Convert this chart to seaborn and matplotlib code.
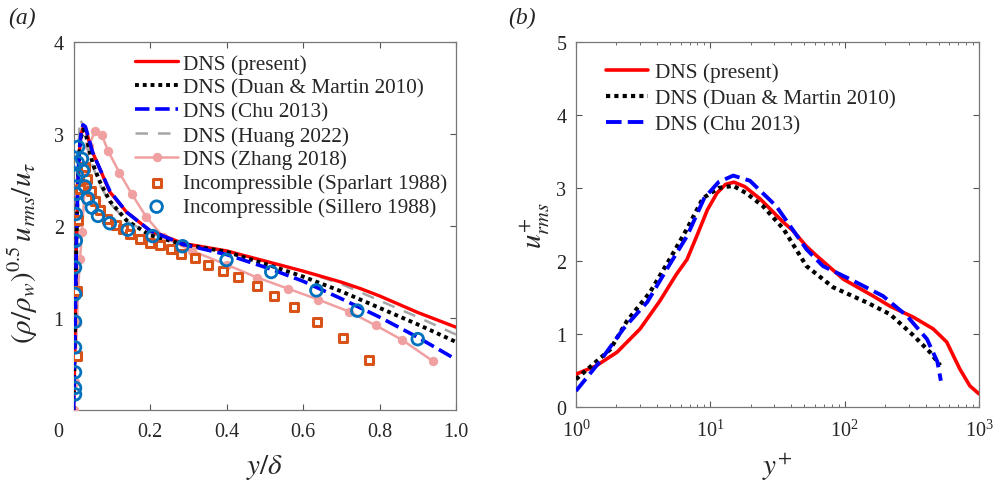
import numpy as np
import pandas as pd
import matplotlib
matplotlib.use("Agg")
import matplotlib.pyplot as plt
import seaborn as sns
from matplotlib.ticker import FixedLocator, FixedFormatter, LogLocator, NullFormatter
from matplotlib.transforms import ScaledTranslation

# ---------------- Panel (a) data: y/delta vs (rho/rho_w)^0.5 u_rms/u_tau ----------------
a_red_x = [0, 0.002, 0.004, 0.006, 0.008, 0.011, 0.015, 0.02, 0.026, 0.032, 0.04, 0.05, 0.069, 0.095,
           0.139, 0.2, 0.287, 0.4, 0.5, 0.6, 0.7, 0.75, 0.8, 0.85, 0.9, 0.95, 1.0]
a_red_y = [0, 0.4, 0.9, 1.4, 1.9, 2.4, 2.8, 3.0, 3.08, 3.06, 2.93, 2.8, 2.62, 2.37,
           2.15, 1.95, 1.81, 1.73, 1.62, 1.51, 1.39, 1.32, 1.24, 1.15, 1.06, 0.98, 0.90]

a_blk_x = [0, 0.002, 0.004, 0.006, 0.008, 0.011, 0.015, 0.02, 0.026, 0.032, 0.04, 0.05, 0.069, 0.095,
           0.139, 0.2, 0.287, 0.4, 0.5, 0.6, 0.7, 0.8, 0.9, 1.0]
a_blk_y = [0, 0.4, 0.9, 1.4, 1.9, 2.4, 2.78, 2.97, 3.05, 3.0, 2.85, 2.68, 2.48, 2.27,
           2.06, 1.90, 1.80, 1.72, 1.59, 1.45, 1.29, 1.11, 0.93, 0.74]

a_blu_x = [0, 0.002, 0.004, 0.006, 0.008, 0.011, 0.015, 0.02, 0.025, 0.031, 0.04, 0.05, 0.069, 0.095,
           0.139, 0.2, 0.287, 0.4, 0.517, 0.6, 0.7, 0.8, 0.9, 1.0]
a_blu_y = [0, 0.4, 0.9, 1.4, 1.9, 2.4, 2.82, 3.02, 3.1, 3.08, 2.95, 2.8, 2.62, 2.38,
           2.15, 1.95, 1.80, 1.69, 1.53, 1.40, 1.21, 1.01, 0.79, 0.55]

a_gry_x = [0, 0.002, 0.004, 0.006, 0.008, 0.011, 0.014, 0.017, 0.022, 0.03, 0.04, 0.05, 0.069, 0.095,
           0.139, 0.2, 0.3, 0.4, 0.5, 0.6, 0.7, 0.8, 0.9, 1.0]
a_gry_y = [0, 0.45, 1.0, 1.5, 2.0, 2.55, 2.95, 3.16, 3.12, 2.98, 2.8, 2.65, 2.45, 2.25,
           2.05, 1.92, 1.80, 1.72, 1.62, 1.51, 1.37, 1.19, 1.01, 0.82]

a_pnk_x = [0.0, 0.003, 0.006, 0.009, 0.012, 0.017, 0.022, 0.03, 0.04, 0.056, 0.074, 0.09, 0.12,
           0.152, 0.19, 0.235, 0.31, 0.40, 0.48, 0.56, 0.64, 0.72, 0.79, 0.86, 0.94]
a_pnk_y = [0.0, 0.3, 0.6, 0.95, 1.3, 1.64, 1.93, 2.45, 2.87, 3.03, 2.99, 2.82, 2.58,
           2.35, 2.10, 1.88, 1.73, 1.58, 1.44, 1.32, 1.20, 1.07, 0.92, 0.76, 0.53]

a_sq_x = [0.008, 0.009, 0.012, 0.018, 0.03, 0.036, 0.045, 0.056, 0.069, 0.087, 0.11, 0.13, 0.148,
          0.174, 0.2, 0.226, 0.254, 0.28, 0.317, 0.352, 0.39, 0.43, 0.479, 0.525, 0.577, 0.636,
          0.705, 0.773]
a_sq_y = [0.59, 1.29, 2.07, 2.40, 2.64, 2.51, 2.38, 2.27, 2.17, 2.08, 2.01, 1.97, 1.91,
          1.86, 1.82, 1.79, 1.75, 1.70, 1.65, 1.58, 1.51, 1.45, 1.35, 1.24, 1.12, 0.96,
          0.78, 0.54]

a_ci_x = [0.004, 0.004, 0.004, 0.004, 0.004, 0.004, 0.004, 0.006, 0.006, 0.008, 0.009, 0.011, 0.012,
          0.022, 0.025, 0.03, 0.038, 0.048, 0.064, 0.095, 0.142, 0.207, 0.285, 0.40, 0.517, 0.635,
          0.742, 0.90]
a_ci_y = [0.17, 0.24, 0.41, 0.68, 0.96, 1.26, 1.55, 1.84, 2.13, 2.35, 2.55, 2.69, 2.86,
          2.73, 2.60, 2.43, 2.30, 2.20, 2.11, 2.03, 1.96, 1.89, 1.78, 1.63, 1.50, 1.30,
          1.08, 0.77]

# ---------------- Panel (b) data: y+ vs u+_rms ----------------
b_red_x = [1.0, 1.4, 2.02, 3.0, 4.2, 5.6, 6.7, 8.0, 9.5, 11.2, 13.0, 15.0, 18.0, 23.5, 35, 41, 52,
           62, 98, 163, 218, 325, 456, 575, 720, 855, 1000]
b_red_y = [0.45, 0.56, 0.75, 1.07, 1.45, 1.82, 2.02, 2.36, 2.70, 2.93, 3.05, 3.08, 3.02, 2.85,
           2.53, 2.42, 2.2, 2.07, 1.75, 1.52, 1.38, 1.23, 1.07, 0.89, 0.52, 0.29, 0.18]

b_blk_x = [1.0, 1.8, 2.4, 3.55, 5.0, 6.7, 8.8, 11.5, 14.8, 18.5, 24.7, 35, 39, 52, 82, 147, 218,
           325, 432, 515]
b_blk_y = [0.38, 0.79, 1.18, 1.57, 2.03, 2.44, 2.86, 3.0, 3.03, 2.93, 2.75, 2.44, 2.30, 1.93,
           1.64, 1.43, 1.27, 0.98, 0.75, 0.57]

b_blu_x = [1.0, 1.5, 2.25, 3.4, 4.75, 6.7, 9.0, 11.5, 14.8, 19.7, 31, 52, 69, 110, 193, 290, 410,
           490, 520]
b_blu_y = [0.22, 0.62, 1.07, 1.44, 1.89, 2.34, 2.86, 3.08, 3.17, 3.10, 2.75, 2.16, 1.93, 1.75,
           1.52, 1.25, 0.93, 0.62, 0.36]

a_xticks = [0, 0.2, 0.4, 0.6, 0.8, 1.0]
a_xticklabels = ["0", "0.2", "0.4", "0.6", "0.8", "1.0"]
a_yticks = [1, 2, 3, 4]
b_yticks = [0, 1, 2, 3, 4, 5]

# ---------------- style ----------------
sns.set_style("ticks")
plt.rcParams["font.family"] = ["Liberation Serif", "DejaVu Serif"]
plt.rcParams["mathtext.fontset"] = "stix"
plt.rcParams["xtick.direction"] = "in"
plt.rcParams["ytick.direction"] = "in"

RED = "#FF0000"
BLUE = "#0000FF"
GRAY = "#A6A6A6"
PINK = "#F0A0A0"
ORANGE = "#D95319"
CBLUE = "#0072BD"
FS = 14.5
LFS = 15.3
LAB = 21

fig = plt.figure(figsize=(9.97, 4.85), dpi=100)
axa = fig.add_axes([73.5 / 997, 74 / 485, 382.5 / 997, 368 / 485])
axb = fig.add_axes([576 / 997, 77 / 485, 403 / 997, 365 / 485])


def line(ax, x, y, **kw):
    sns.lineplot(x=np.asarray(x, float), y=np.asarray(y, float), ax=ax, sort=False,
                 estimator=None, **kw)


# panel (a)
line(axa, a_red_x, a_red_y, color=RED, lw=2.4, label="DNS (present)", zorder=5)
line(axa, a_blk_x, a_blk_y, color="black", lw=2.8, linestyle=(0, (1, 1)),
     label="DNS (Duan & Martin 2010)", zorder=6)
line(axa, a_blu_x, a_blu_y, color=BLUE, lw=2.6, linestyle=(0, (4, 1.6)),
     label="DNS (Chu 2013)", zorder=7)
line(axa, a_gry_x, a_gry_y, color=GRAY, lw=1.8, linestyle=(0, (5, 4)),
     label="DNS (Huang 2022)", zorder=4)
line(axa, a_pnk_x, a_pnk_y, color=PINK, lw=1.8, marker="o", markersize=6,
     markeredgecolor=PINK, label="DNS (Zhang 2018)", zorder=3)
sns.scatterplot(x=a_sq_x, y=a_sq_y, ax=axa, marker="s", s=38, facecolor="white",
                edgecolor=ORANGE, linewidth=2.2, label="Incompressible (Sparlart 1988)", zorder=8)
sns.scatterplot(x=a_ci_x, y=a_ci_y, ax=axa, marker="o", s=70, facecolor="none",
                edgecolor=CBLUE, linewidth=2.0, label="Incompressible (Sillero 1988)", zorder=9)

axa.set_xlim(0, 1.0)
axa.set_ylim(0, 4)
axa.xaxis.set_major_locator(FixedLocator(a_xticks))
axa.xaxis.set_major_formatter(FixedFormatter(a_xticklabels))
axa.yaxis.set_major_locator(FixedLocator(a_yticks))
axa.set_xlabel(r"$y/\delta$", fontsize=LAB)
axa.set_ylabel(r"$(\rho/\rho_w)^{0.5}\,u_{rms}/u_\tau$", fontsize=LAB)
axa.xaxis.set_label_coords(0.5, -0.115)
axa.yaxis.set_label_coords(-0.088, 0.43)
axa.legend(loc="upper left", bbox_to_anchor=(0.145, 0.985), frameon=False, fontsize=LFS,
           handlelength=2.0, handletextpad=0.25, labelspacing=0.19, borderaxespad=0,
           borderpad=0.3)
fig.text(22 / 997, 1 - 18 / 485, "(a)", fontsize=17, style="italic", va="center", ha="center")

# panel (b)
line(axb, b_red_x, b_red_y, color=RED, lw=2.6, label="DNS (present)", zorder=5)
line(axb, b_blk_x, b_blk_y, color="black", lw=3.0, linestyle=(0, (1, 1)),
     label="DNS (Duan & Martin 2010)", zorder=6)
line(axb, b_blu_x, b_blu_y, color=BLUE, lw=2.8, linestyle=(0, (4, 1.6)),
     label="DNS (Chu 2013)", zorder=7)
axb.set_xscale("log")
axb.set_xlim(1, 1000)
axb.set_ylim(0, 5)
axb.yaxis.set_major_locator(FixedLocator(b_yticks))
axb.xaxis.set_major_locator(LogLocator(base=10, numticks=10))
axb.xaxis.set_minor_locator(LogLocator(base=10, subs=np.arange(2, 10), numticks=20))
axb.xaxis.set_minor_formatter(NullFormatter())
axb.set_xlabel(r"$y^{+}$", fontsize=LAB)
axb.set_ylabel(r"$u^{+}_{rms}$", fontsize=LAB)
axb.xaxis.set_label_coords(0.5, -0.12)
axb.yaxis.set_label_coords(-0.058, 0.5)
axb.legend(loc="upper left", bbox_to_anchor=(0.058, 0.962), frameon=False, fontsize=LFS,
           handlelength=2.0, handletextpad=0.3, labelspacing=0.3, borderaxespad=0,
           borderpad=0.3)
fig.text(522 / 997, 1 - 18 / 485, "(b)", fontsize=17, style="italic", va="center", ha="center")

for ax in (axa, axb):
    ax.tick_params(which="both", direction="in", top=True, right=True, labelsize=FS,
                   color="#555555")
    ax.tick_params(which="major", length=4, width=0.8)
    ax.tick_params(which="minor", length=2.2, width=0.6)
    ax.tick_params(axis="x", which="major", pad=9)
    ax.tick_params(axis="y", which="major", pad=7)
    for sp in ax.spines.values():
        sp.set_visible(True)
        sp.set_color("#777777")
        sp.set_linewidth(0.9)
    ax.grid(False)

# the "0" label of panel (a) sits left of its tick in the reference
fig.canvas.draw()
lab0 = axa.get_xticklabels()[0]
lab0.set_transform(lab0.get_transform() + ScaledTranslation(-15 / 100, 0, fig.dpi_scale_trans))

fig.savefig("out.png", dpi=100, facecolor="white")
